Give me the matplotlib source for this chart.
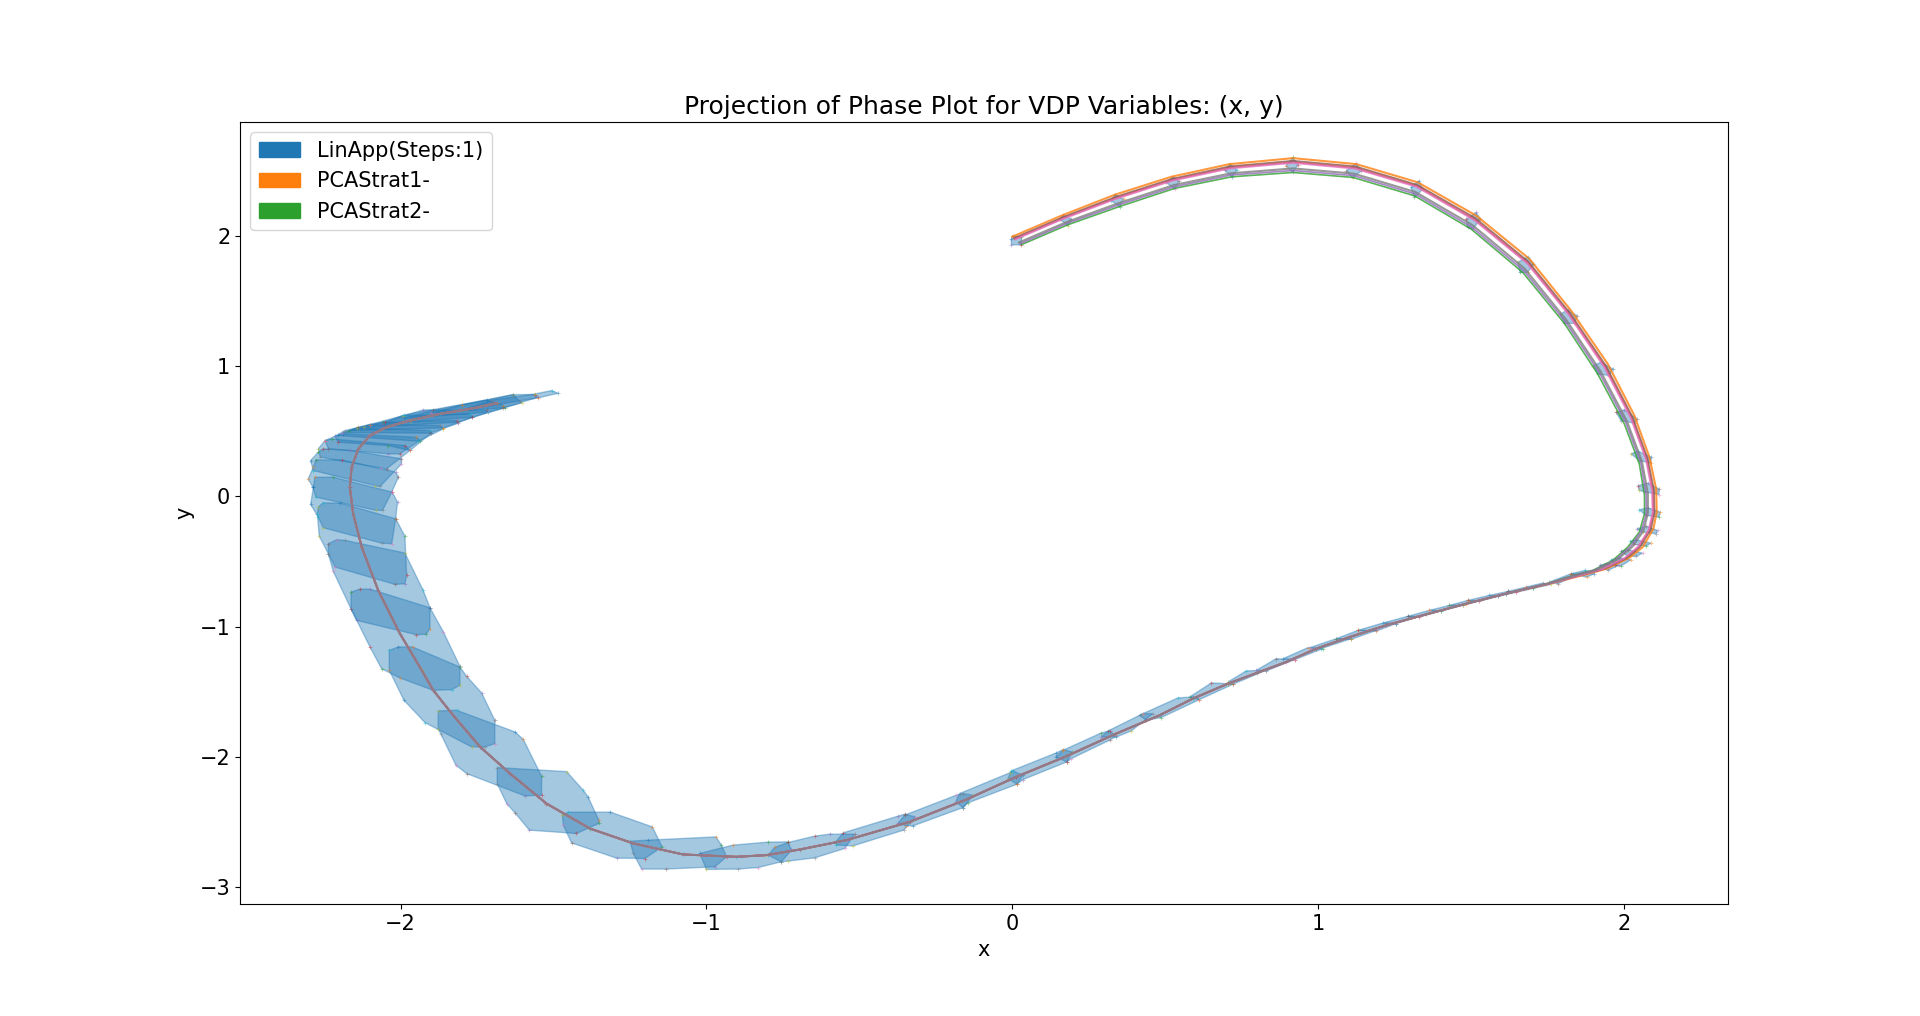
import matplotlib
matplotlib.use("Agg")
import matplotlib.pyplot as plt
import matplotlib.patches as mpatches
import numpy as np

# simulated traces, first part where they are still apart
orange_x = [0.00, .160, .335, .520, .710, .918, 1.125, 1.326, 1.517, 1.691, 1.827, 1.947, 2.034, 2.083, 2.105, 2.107, 2.096, 2.061, 2.018, 1.942, 1.876, 1.756]
orange_y = [1.994, 2.155, 2.316, 2.454, 2.551, 2.597, 2.551, 2.411, 2.155, 1.823, 1.426, 1.017, .621, .302, .059, -.120, -.248, -.389, -.470, -.555, -.598, -.670]
green_x = [.030, .182, .351, .531, .718, .918, 1.114, 1.315, 1.500, 1.669, 1.805, 1.914, 2.001, 2.050, 2.067, 2.067, 2.050, 2.012, 1.963, 1.898, 1.833, 1.756]
green_y = [1.933, 2.086, 2.226, 2.365, 2.454, 2.487, 2.449, 2.308, 2.053, 1.720, 1.329, .941, .557, .251, .008, -.133, -.274, -.389, -.491, -.567, -.606, -.665]
red_x = [.008, .166, .339, .523, .712, .918, 1.122, 1.323, 1.512, 1.685, 1.821, 1.938, 2.025, 2.074, 2.094, 2.096, 2.083, 2.047, 2.003, 1.930, 1.864, 1.756]
red_y = [1.977, 2.136, 2.291, 2.429, 2.524, 2.566, 2.522, 2.382, 2.126, 1.794, 1.399, .996, .603, .288, .045, -.124, -.255, -.389, -.476, -.558, -.600, -.668]
purple_x = [.026, .179, .349, .529, .717, .918, 1.116, 1.317, 1.502, 1.672, 1.808, 1.919, 2.006, 2.055, 2.072, 2.073, 2.056, 2.019, 1.971, 1.904, 1.839, 1.756]
purple_y = [1.941, 2.096, 2.239, 2.377, 2.468, 2.502, 2.463, 2.322, 2.067, 1.734, 1.343, .952, .566, .258, .015, -.131, -.270, -.389, -.488, -.565, -.605, -.666]
brown_x = [.005, .164, .338, .522, .711, .918, 1.123, 1.324, 1.514, 1.687, 1.823, 1.941, 2.028, 2.077, 2.098, 2.100, 2.088, 2.052, 2.008, 1.934, 1.868, 1.756]
brown_y = [1.983, 2.143, 2.300, 2.438, 2.534, 2.577, 2.533, 2.392, 2.137, 1.804, 1.409, 1.003, .609, .293, .050, -.122, -.253, -.389, -.474, -.557, -.599, -.669]
pink_x = [.010, .167, .340, .524, .713, .918, 1.121, 1.322, 1.511, 1.684, 1.820, 1.936, 2.023, 2.072, 2.092, 2.094, 2.081, 2.045, 2.000, 1.927, 1.862, 1.756]
pink_y = [1.974, 2.132, 2.286, 2.425, 2.519, 2.561, 2.517, 2.377, 2.121, 1.789, 1.394, .992, .600, .285, .042, -.124, -.257, -.389, -.477, -.559, -.601, -.668]
gray_x = [.022, .176, .347, .528, .716, .918, 1.117, 1.318, 1.505, 1.675, 1.811, 1.923, 2.010, 2.059, 2.078, 2.078, 2.063, 2.026, 1.978, 1.910, 1.845, 1.756]
gray_y = [1.950, 2.105, 2.251, 2.390, 2.481, 2.518, 2.478, 2.337, 2.082, 1.749, 1.356, .962, .575, .265, .022, -.129, -.267, -.389, -.485, -.564, -.604, -.666]

# after the bend all traces sit on top of each other
tail_x = [1.614, 1.484, 1.353, 1.222, 1.103, .994, .896, .799, .705, .590, .482, .335, .177, .013, -.150, -.335, -.542, -.695, -.804, -.902, -1.076, -1.239, -1.381, -1.523, -1.642, -1.740, -1.828, -1.893, -1.931, -2.002, -2.073, -2.127, -2.155, -2.166, -2.160, -2.138, -2.100, -2.046, -1.970, -1.871, -1.773, -1.686]
tail_y = [-.746, -.823, -.905, -.989, -1.079, -1.168, -1.270, -1.355, -1.437, -1.552, -1.679, -1.825, -1.994, -2.152, -2.326, -2.497, -2.638, -2.710, -2.753, -2.766, -2.748, -2.663, -2.549, -2.357, -2.127, -1.922, -1.680, -1.488, -1.334, -1.053, -.721, -.389, -.133, .072, .225, .366, .468, .532, .583, .634, .672, .716]

# reach sets, one polygon per step
sets_arc = [
    [(-.003, 1.976), (.002, 2.001), (.030, 1.989), (.030, 1.932), (-.003, 1.932)],
    [(.155, 2.129), (.166, 2.162), (.193, 2.129), (.182, 2.078)],
    [(.324, 2.270), (.335, 2.316), (.364, 2.283), (.351, 2.224)],
    [(.504, 2.410), (.525, 2.454), (.545, 2.418), (.531, 2.359)],
    [(.694, 2.505), (.711, 2.551), (.735, 2.505), (.718, 2.454)],
    [(.895, 2.538), (.917, 2.602), (.934, 2.546), (.917, 2.487)],
    [(1.092, 2.500), (1.124, 2.556), (1.141, 2.500), (1.113, 2.444)],
    [(1.304, 2.372), (1.329, 2.423), (1.342, 2.359), (1.315, 2.295)],
    [(1.484, 2.129), (1.517, 2.180), (1.530, 2.129), (1.506, 2.053), (1.489, 2.065)],
    [(1.653, 1.797), (1.685, 1.840), (1.704, 1.784), (1.685, 1.720), (1.660, 1.720)],
    [(1.792, 1.401), (1.816, 1.431), (1.846, 1.388), (1.838, 1.329), (1.805, 1.329)],
    [(1.900, 1.005), (1.925, 1.030), (1.963, .979), (1.952, .928), (1.914, .941)],
    [(1.974, .647), (2.001, .665), (2.042, .596), (2.034, .562), (1.990, .583)],
    [(2.023, .327), (2.045, .348), (2.088, .302), (2.088, .256), (2.050, .276)],
    [(2.046, .084), (2.078, .102), (2.114, .059), (2.114, .015), (2.072, .033), (2.050, .046)],
    [(2.050, -.102), (2.078, -.087), (2.118, -.120), (2.114, -.158), (2.072, -.146)],
    [(2.042, -.248), (2.072, -.230), (2.110, -.261), (2.105, -.286), (2.061, -.274)],
    [(2.020, -.345), (2.039, -.332), (2.088, -.358), (2.072, -.381), (2.034, -.368)],
    [(1.990, -.419), (2.012, -.409), (2.061, -.435), (2.039, -.460), (2.012, -.457)],
    [(1.958, -.486), (1.985, -.470), (2.023, -.486), (1.990, -.534), (1.969, -.529)],
    [(1.920, -.529), (1.941, -.516), (1.983, -.529), (1.947, -.567)],
    [(1.827, -.593), (1.874, -.567), (1.903, -.593), (1.878, -.619)],
    [(1.756, -.657), (1.827, -.593), (1.854, -.598), (1.783, -.670)],
]
sets_thin = [
    [(1.680, -.695), (1.734, -.665), (1.762, -.675), (1.702, -.706)],
    [(1.620, -.729), (1.680, -.695), (1.702, -.706), (1.647, -.736)],
    [(1.560, -.759), (1.620, -.729), (1.647, -.736), (1.587, -.767)],
    [(1.489, -.798), (1.560, -.759), (1.587, -.767), (1.527, -.805)],
    [(1.429, -.836), (1.489, -.798), (1.527, -.803), (1.473, -.836)],
    [(1.364, -.874), (1.429, -.836), (1.473, -.836), (1.402, -.879)],
    [(1.293, -.920), (1.364, -.874), (1.402, -.879), (1.331, -.925)],
    [(1.212, -.971), (1.293, -.920), (1.331, -.920), (1.255, -.976)],
    [(1.130, -1.028), (1.212, -.971), (1.255, -.976), (1.190, -1.033)],
    [(1.059, -1.092), (1.130, -1.028), (1.190, -1.028), (1.108, -1.097)],
    [(.972, -1.161), (1.059, -1.092), (1.108, -1.092), (1.010, -1.168)],
    [(.885, -1.245), (.966, -1.161), (1.015, -1.168), (.923, -1.253)],
    [(.798, -1.334), (.863, -1.245), (.923, -1.253), (.830, -1.339)],
    [(.705, -1.424), (.765, -1.339), (.830, -1.334), (.721, -1.442)],
    [(.580, -1.539), (.651, -1.431), (.705, -1.437), (.721, -1.442), (.612, -1.559)],
    [(.416, -1.679), (.427, -1.667), (.542, -1.546), (.591, -1.539), (.612, -1.559), (.487, -1.697), (.438, -1.718)],
]
sets_lower = [
    [(.291, -1.846), (.313, -1.800), (.427, -1.667), (.460, -1.667), (.389, -1.800), (.340, -1.846)],
    [(.142, -2.000), (.166, -1.948), (.291, -1.815), (.318, -1.800), (.340, -1.841), (.318, -1.871), (.193, -2.012), (.179, -2.037)],
    [(-.014, -2.165), (-.003, -2.106), (.144, -1.968), (.166, -1.943), (.196, -1.961), (.179, -2.037), (.035, -2.173), (.015, -2.209)],
    [(-.185, -2.344), (-.172, -2.280), (-.009, -2.122), (.002, -2.106), (.035, -2.140), (.015, -2.209), (-.145, -2.352), (-.161, -2.388)],
    [(-.374, -2.510), (-.352, -2.446), (-.183, -2.293), (-.161, -2.280), (-.128, -2.293), (-.161, -2.388), (-.324, -2.528), (-.346, -2.528)],
    [(-.577, -2.651), (-.553, -2.582), (-.374, -2.454), (-.352, -2.439), (-.317, -2.459), (-.355, -2.561), (-.521, -2.682), (-.575, -2.676)],
    [(-.798, -2.753), (-.777, -2.694), (-.733, -2.656), (-.646, -2.607), (-.597, -2.592), (-.515, -2.592), (-.548, -2.702), (-.646, -2.774), (-.733, -2.799), (-.755, -2.804)],
    [(-1.022, -2.740), (-.913, -2.676), (-.798, -2.653), (-.733, -2.651), (-.722, -2.715), (-.755, -2.804), (-.831, -2.848), (-.896, -2.860), (-1.000, -2.863)],
    [(-1.250, -2.646), (-1.190, -2.638), (-.969, -2.613), (-.951, -2.676), (-.934, -2.766), (-.973, -2.843), (-1.131, -2.860), (-1.212, -2.860), (-1.239, -2.740)],
    [(-1.471, -2.446), (-1.452, -2.423), (-1.314, -2.423), (-1.177, -2.536), (-1.145, -2.689), (-1.201, -2.779), (-1.294, -2.776), (-1.441, -2.659), (-1.468, -2.523)],
    [(-1.684, -2.081), (-1.457, -2.112), (-1.403, -2.255), (-1.387, -2.306), (-1.352, -2.485), (-1.352, -2.510), (-1.425, -2.587), (-1.579, -2.561), (-1.626, -2.428), (-1.653, -2.357), (-1.684, -2.204)],
    [(-1.877, -1.646), (-1.817, -1.641), (-1.626, -1.807), (-1.599, -1.864), (-1.539, -2.147), (-1.539, -2.293), (-1.594, -2.298), (-1.784, -2.127), (-1.819, -2.063), (-1.869, -1.820), (-1.877, -1.782)],
    [(-2.037, -1.181), (-2.007, -1.155), (-1.961, -1.155), (-1.806, -1.309), (-1.784, -1.380), (-1.735, -1.508), (-1.692, -1.718), (-1.692, -1.897), (-1.724, -1.922), (-1.768, -1.922), (-1.920, -1.736), (-1.989, -1.564), (-2.037, -1.334)],
    [(-2.162, -.734), (-2.133, -.711), (-2.100, -.711), (-1.904, -.854), (-1.860, -1.040), (-1.806, -1.304), (-1.806, -1.449), (-1.833, -1.483), (-1.893, -1.488), (-2.002, -1.393), (-2.062, -1.322), (-2.100, -1.155), (-2.162, -.862)],
]
sets_upper = [
    [(-2.236, -.363), (-2.209, -.332), (-2.182, -.337), (-1.986, -.434), (-1.926, -.721), (-1.904, -.854), (-1.904, -1.015), (-1.917, -1.058), (-1.948, -1.061), (-2.144, -.951), (-2.162, -.862), (-2.220, -.575), (-2.236, -.440)],
    [(-2.269, -.082), (-2.253, -.049), (-2.198, -.051), (-2.016, -.171), (-1.986, -.304), (-1.980, -.606), (-1.986, -.670), (-2.018, -.675), (-2.214, -.542), (-2.236, -.440), (-2.266, -.304), (-2.272, -.133)],
    [(-2.285, .072), (-2.280, .148), (-2.220, .148), (-2.027, .033), (-2.010, -.043), (-2.016, -.171), (-2.029, -.363), (-2.062, -.358), (-2.253, -.240), (-2.269, -.159), (-2.294, -.061)],
    [(-2.285, .225), (-2.277, .281), (-2.193, .281), (-2.016, .187), (-2.007, .148), (-2.029, .033), (-2.059, -.107), (-2.080, -.107), (-2.277, -.005), (-2.287, .072), (-2.302, .135)],
    [(-2.269, .340), (-2.253, .366), (-2.165, .353), (-1.997, .289), (-1.997, .250), (-2.067, .077), (-2.084, .084), (-2.285, .199), (-2.294, .276)],
    [(-2.247, .429), (-2.225, .442), (-1.986, .391), (-1.969, .353), (-2.046, .212), (-2.065, .220), (-2.263, .302), (-2.269, .366)],
    [(-2.214, .463), (-2.187, .481), (-1.948, .455), (-1.937, .429), (-2.002, .327), (-2.040, .327), (-2.236, .366), (-2.247, .429)],
    [(-2.182, .506), (-2.144, .527), (-1.904, .506), (-1.899, .488), (-1.969, .353), (-2.040, .391), (-2.204, .417), (-2.214, .463)],
    [(-2.138, .532), (-2.100, .552), (-1.871, .545), (-1.860, .519), (-1.942, .424), (-2.204, .468)],
    [(-2.100, .552), (-2.056, .570), (-1.817, .583), (-1.811, .562), (-1.904, .486), (-2.190, .490)],
    [(-2.100, .552), (-1.991, .621), (-1.773, .634), (-1.765, .608), (-1.860, .527), (-2.170, .505)],
    [(-2.050, .575), (-1.926, .665), (-1.719, .660), (-1.713, .647), (-1.811, .570), (-2.120, .530)],
    [(-1.990, .625), (-1.719, .741), (-1.664, .698), (-1.659, .680), (-1.765, .608), (-2.060, .555)],
    [(-1.893, .660), (-1.632, .782), (-1.610, .731), (-1.604, .718), (-1.713, .647), (-1.990, .600)],
    [(-1.800, .700), (-1.632, .782), (-1.561, .782), (-1.550, .762), (-1.664, .680), (-1.900, .640)],
    [(-1.700, .740), (-1.561, .787), (-1.506, .813), (-1.485, .792), (-1.550, .757), (-1.800, .660)],
]

legend_names = ["LinApp(Steps:1)", "PCAStrat1-", "PCAStrat2-"]
legend_colors = ["C0", "C1", "C2"]

plt.rcParams["font.size"] = 15

fig, ax = plt.subplots(figsize=(19.2, 10.16), dpi=100)

# reach sets with a small cross on every vertex
n = 0
for group in (sets_arc, sets_thin, sets_lower, sets_upper):
    for poly in group:
        xs = [p[0] for p in poly]
        ys = [p[1] for p in poly]
        ax.fill(xs, ys, color="C0", alpha=0.4)
        for vx, vy in poly:
            ax.plot(vx, vy, "+", color="C%d" % (n % 10), ms=3, mew=0.6, alpha=0.5)
            n += 1

# little crosses that sit on the line along the lower part
for k in range(len(tail_x)):
    ax.plot(tail_x[k], tail_y[k], "+", color="C%d" % (k % 10), ms=3, mew=0.6, alpha=0.6)

traces = [(orange_x, orange_y, "C1", 1.5), (green_x, green_y, "C2", 1.2), (red_x, red_y, "C3", 1.2),
          (purple_x, purple_y, "C4", 1.2), (brown_x, brown_y, "C5", 1.2), (pink_x, pink_y, "C6", 1.5),
          (gray_x, gray_y, "C7", 1.5)]
for tx, ty, col, width in traces:
    ax.plot(np.concatenate([tx, tail_x]), np.concatenate([ty, tail_y]), color=col, lw=width, alpha=0.8)

ax.set_xlim(-2.525, 2.34)
ax.set_ylim(-3.13, 2.875)
ax.set_xticks([-2, -1, 0, 1, 2])
ax.set_yticks([-3, -2, -1, 0, 1, 2])
ax.set_xlabel("x")
ax.set_ylabel("y")
ax.set_title("Projection of Phase Plot for VDP Variables: (x, y)", fontsize=18)

handles = [mpatches.Patch(color=c, label=l) for c, l in zip(legend_colors, legend_names)]
ax.legend(handles=handles, loc="upper left")

fig.savefig("out.png", dpi=100)
